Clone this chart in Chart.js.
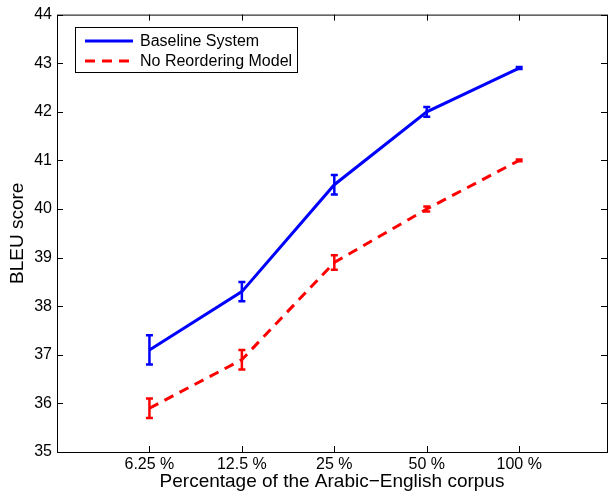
<!DOCTYPE html>
<html><head><meta charset="utf-8">
<script src="https://cdn.jsdelivr.net/npm/chart.js@4/dist/chart.umd.min.js"></script>
<style>html,body{margin:0;padding:0;background:#fff}#wrap{width:608px;height:493px;position:relative}</style>
</head><body><div id="wrap"><canvas id="c" width="608" height="493"></canvas></div>
<script>
const categories = ["6.25 %", "12.5 %", "25 %", "50 %", "100 %"];
const baseline = [37.1, 38.3, 40.5, 42.0, 42.9];
const baselineErr = [0.3, 0.2, 0.2, 0.1, 0.02];
const noReorder = [35.9, 36.9, 38.9, 40.0, 41.0];
const noReorderErr = [0.2, 0.2, 0.15, 0.05, 0.02];
const yTicks = [35, 36, 37, 38, 39, 40, 41, 42, 43, 44];
const seriesNames = ["Baseline System", "No Reordering Model"];

const FONT = "'Liberation Sans', Arial, Helvetica, sans-serif";
const toPts = arr => arr.map((v, i) => ({x: i + 1, y: v}));

const errPlugin = {
  id: 'err',
  afterDatasetsDraw(chart) {
    const ctx = chart.ctx, xs = chart.scales.x, ys = chart.scales.y;
    const sets = [[baseline, baselineErr, '#0000ff'], [noReorder, noReorderErr, '#ff0000']];
    ctx.save();
    sets.forEach(([vals, errs, col]) => {
      ctx.strokeStyle = col; ctx.lineWidth = 2.5; ctx.setLineDash([]);
      vals.forEach((v, i) => {
        const px = xs.getPixelForValue(i + 1);
        const t = ys.getPixelForValue(v + errs[i]), b = ys.getPixelForValue(v - errs[i]);
        ctx.beginPath();
        ctx.moveTo(px, t); ctx.lineTo(px, b);
        ctx.moveTo(px - 3.5, t); ctx.lineTo(px + 3.5, t);
        ctx.moveTo(px - 3.5, b); ctx.lineTo(px + 3.5, b);
        ctx.stroke();
      });
    });
    ctx.restore();
  }
};

const frame = {
  id: 'frame',
  afterDraw(chart) {
    const ctx = chart.ctx, a = chart.chartArea, xs = chart.scales.x, ys = chart.scales.y;
    ctx.save();
    ctx.strokeStyle = '#000'; ctx.lineWidth = 1; ctx.setLineDash([]);
    ctx.strokeRect(a.left + 0.5, a.top + 0.5, a.right - a.left, a.bottom - a.top);
    ctx.beginPath();
    for (let i = 1; i <= categories.length; i++) {
      const px = Math.round(xs.getPixelForValue(i)) + 0.5;
      ctx.moveTo(px, a.bottom); ctx.lineTo(px, a.bottom - 6);
      ctx.moveTo(px, a.top); ctx.lineTo(px, a.top + 6);
    }
    yTicks.forEach(v => {
      const py = Math.round(ys.getPixelForValue(v)) + 0.5;
      ctx.moveTo(a.left, py); ctx.lineTo(a.left + 6, py);
      ctx.moveTo(a.right, py); ctx.lineTo(a.right - 6, py);
    });
    ctx.stroke();
    // legend
    const lx = 75, ly = 27, lw = 222, lh = 45;
    ctx.fillStyle = '#fff';
    ctx.fillRect(lx, ly, lw, lh);
    ctx.strokeRect(lx + 0.5, ly + 0.5, lw, lh);
    const rows = [[seriesNames[0], '#0000ff', []], [seriesNames[1], '#ff0000', [10, 7]]];
    rows.forEach(([name, col, dash], k) => {
      const yy = ly + 14 + k * 20;
      ctx.strokeStyle = col; ctx.lineWidth = 3; ctx.setLineDash(dash);
      ctx.beginPath(); ctx.moveTo(85, yy); ctx.lineTo(133, yy); ctx.stroke();
      ctx.fillStyle = '#000'; ctx.font = '16px ' + FONT;
      ctx.textBaseline = 'middle'; ctx.textAlign = 'left';
      ctx.fillText(name, 140, yy + 1);
    });
    ctx.restore();
  }
};

new Chart(document.getElementById('c'), {
  type: 'line',
  data: {
    datasets: [
      {label: seriesNames[0], data: toPts(baseline), borderColor: '#0000ff', borderWidth: 3, pointRadius: 0, fill: false, tension: 0},
      {label: seriesNames[1], data: toPts(noReorder), borderColor: '#ff0000', borderWidth: 3, borderDash: [10, 7], pointRadius: 0, fill: false, tension: 0}
    ]
  },
  options: {
    responsive: false, animation: false, devicePixelRatio: 1,
    layout: {padding: {top: 13, right: 1, left: 0, bottom: 0}},
    plugins: {legend: {display: false}, tooltip: {enabled: false}},
    scales: {
      x: {
        type: 'linear', min: 0, max: 5.95,
        afterBuildTicks: s => { s.ticks = categories.map((c, i) => ({value: i + 1})); },
        ticks: {callback: v => categories[v - 1], color: '#000', font: {family: FONT, size: 16}, padding: 3, maxRotation: 0, autoSkip: false},
        grid: {display: false, drawTicks: false},
        border: {display: false},
        title: {display: true, text: 'Percentage of the Arabic\u2212English corpus', color: '#000', font: {family: FONT, size: 19}, padding: {top: 0, bottom: 0}},
        afterFit: s => { s.height = 41; }
      },
      y: {
        min: 35, max: 44,
        afterBuildTicks: s => { s.ticks = yTicks.map(v => ({value: v})); },
        ticks: {color: '#000', font: {family: FONT, size: 16}, padding: 5},
        grid: {display: false, drawTicks: false},
        border: {display: false},
        title: {display: true, text: 'BLEU score', color: '#000', font: {family: FONT, size: 19}, padding: {top: 6, bottom: 4}},
        afterFit: s => { s.width = 57; }
      }
    }
  },
  plugins: [errPlugin, frame]
});
</script></body></html>
